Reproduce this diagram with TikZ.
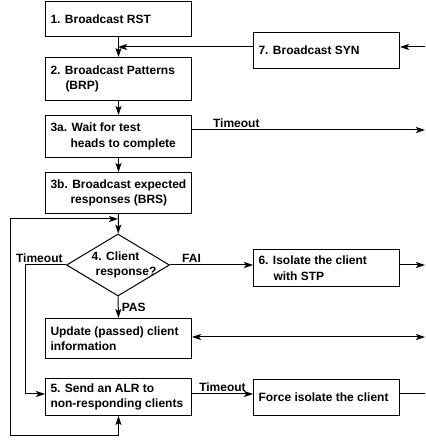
\documentclass[tikz,border=0pt]{standalone}
\usepackage{fontspec}
\setmainfont{Liberation Sans}
\usetikzlibrary{shapes.geometric,arrows.meta}

\begin{document}
\begin{tikzpicture}[x=1pt, y=1pt, line width=1pt,
    every node/.style={font=\bfseries\fontsize{12}{15.5}\selectfont},
    stepbox/.style={draw, anchor=north west, text width=136pt, inner xsep=5pt, inner ysep=0pt, align=flush left},
    decision/.style={draw, diamond, minimum width=103pt, minimum height=62pt, inner xsep=-16pt, inner ysep=-8pt, align=flush left},
    lbl/.style={inner sep=2pt},
    flow/.style={-{Stealth[length=9pt,width=6pt,inset=2pt]}},
    both/.style={{Stealth[length=9pt,width=6pt,inset=2pt]}-{Stealth[length=9pt,width=6pt,inset=2pt]}}]
    \useasboundingbox (0,0) rectangle (425,443);

    % Main column
    \node[stepbox, minimum height=35pt] (rst) at (45,442) {1. Broadcast RST};
    \node[stepbox, minimum height=43pt] (brp) at (45,386) {2. Broadcast Patterns\\\hspace*{15pt}(BRP)};
    \node[stepbox, minimum height=42pt] (wait) at (45,328) {3a. Wait for test\\\hspace*{20pt}heads to complete};
    \node[stepbox, minimum height=41pt] (brs) at (45,271) {3b. Broadcast expected\\\hspace*{20pt}responses (BRS)};
    \node[decision] (resp) at (118,178) {\hspace*{12pt}4. Client\\\hspace*{16pt}response?};
    \node[stepbox, minimum height=40pt] (upd) at (45,125) {Update (passed) client\\information};
    \node[stepbox, minimum height=37pt] (alr) at (45,65) {5. Send an ALR to\\non-responding clients};

    % Right column
    \node[stepbox, minimum height=36pt] (syn) at (253,411) {7. Broadcast SYN};
    \node[stepbox, minimum height=37pt] (iso) at (253,194) {6. Isolate the client\\\hspace*{15pt}with STP};
    \node[stepbox, minimum height=36pt] (force) at (253,64) {Force isolate the client};

    % Merge points and loose ends
    \coordinate (m1) at (118,396);
    \coordinate (m2) at (118,224);
    \coordinate (in7) at (425,396);
    \coordinate (out3a) at (425,313);
    \coordinate (out6) at (425,178);
    \coordinate (outupd) at (425,106);
    \coordinate (outforce) at (425,49);
    \coordinate (tl) at (25,178);
    \coordinate (tl2) at (25,49);
    \coordinate (lp1) at (10,224);
    \coordinate (lp2) at (10,7);

    % Downward flow
    \draw[flow] (rst) -- (brp);
    \draw[flow] (syn.west |- m1) -- (m1);
    \draw[flow] (in7) -- (syn.east |- in7);
    \draw[flow] (brp) -- (wait);
    \draw[flow] (wait) -- (brs);
    \draw[flow] (brs) -- (resp);
    \draw[flow] (wait.east |- out3a) -- node[lbl, pos=0.19, above] {Timeout} (out3a);

    % Decision outcomes
    \draw[flow] (resp.east) -- node[lbl, pos=0.26, above] {FAI} (iso.west |- resp.east);
    \draw[flow] (iso.east |- out6) -- (out6);
    \draw[flow] (resp.south) -- node[lbl, right, xshift=1pt] {PAS} (upd.north);
    \draw[both] (outupd) -- (upd.east |- outupd);
    \draw[flow] (resp.west) -- node[lbl, pos=0.65, above] {Timeout} (tl) -- (tl2) -- (alr.west |- tl2);
    \draw[flow] (alr.east |- outforce) -- node[lbl, above] {Timeout} (force.west |- outforce);
    \draw (force.east |- outforce) -- (outforce);

    % Loop back
    \draw[both] (m2) -- (lp1) -- (lp2) -| (alr.south);
\end{tikzpicture}
\end{document}
